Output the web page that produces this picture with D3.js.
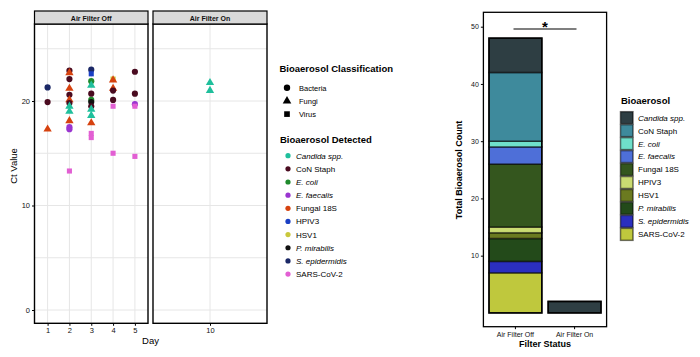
<!DOCTYPE html>
<html><head><meta charset="utf-8">
<script src="https://cdn.jsdelivr.net/npm/d3@7"></script>
<style>body{margin:0;background:#fff}svg{font-family:"Liberation Sans",Arial,sans-serif}</style>
</head><body><svg id="c" width="700" height="357"></svg>
<script>
// ---------- data ----------
const organisms = ["Candida spp.","CoN Staph","E. coli","E. faecalis","Fungal 18S","HPIV3","HSV1","P. mirabilis","S. epidermidis","SARS-CoV-2"];
const italicOrg = ["Candida spp.","E. coli","E. faecalis","P. mirabilis","S. epidermidis"];
const classes = ["Bacteria","Fungi","Virus"];
const orgClass = ["Fungi","Bacteria","Bacteria","Bacteria","Fungi","Virus","Virus","Bacteria","Bacteria","Virus"];
const scatterColors = ["#1fbf9c","#4a0b20","#1f8a2c","#9a35d0","#d6420f","#1a3fc4","#c9c83c","#111111","#1b2866","#e25fd3"];
const barColors = ["#2e3e43","#3e8a9c","#6fdfca","#4e6fd8","#34561e","#cadb72","#6b7a20","#234a1a","#2b2fbf","#bfc83d"];
const panels = ["Air Filter Off","Air Filter On"];
const offDays = [1,2,3,4,5];
const onDays = [10];
const ctTicks = [0,10,20];
// scatter points
const ptPanel = ["Air Filter Off","Air Filter Off","Air Filter Off",
 "Air Filter Off","Air Filter Off","Air Filter Off","Air Filter Off","Air Filter Off","Air Filter Off","Air Filter Off","Air Filter Off","Air Filter Off","Air Filter Off","Air Filter Off","Air Filter Off","Air Filter Off",
 "Air Filter Off","Air Filter Off","Air Filter Off","Air Filter Off","Air Filter Off","Air Filter Off","Air Filter Off","Air Filter Off","Air Filter Off","Air Filter Off","Air Filter Off","Air Filter Off","Air Filter Off",
 "Air Filter Off","Air Filter Off","Air Filter Off","Air Filter Off","Air Filter Off","Air Filter Off","Air Filter Off",
 "Air Filter Off","Air Filter Off","Air Filter Off","Air Filter Off","Air Filter Off",
 "Air Filter On","Air Filter On"];
const ptDay = [1,1,1,
 2,2,2,2,2,2,2,2,2,2,2,2,2,
 3,3,3,3,3,3,3,3,3,3,3,3,3,
 4,4,4,4,4,4,4,
 5,5,5,5,5,
 10,10];
const ptCt = [21.3,19.9,17.3,
 22.9,22.7,22.1,21.2,20.6,20.1,19.8,19.5,19.0,18.1,17.5,17.3,13.3,
 23.0,22.6,21.9,21.5,20.7,20.1,19.9,19.5,19.2,18.6,17.9,16.9,16.5,
 22.1,22.0,21.2,21.0,20.1,19.5,15.0,
 22.8,20.7,19.7,19.5,14.7,
 21.75,21.0];
const ptOrg = ["S. epidermidis","CoN Staph","Fungal 18S",
 "CoN Staph","Fungal 18S","CoN Staph","Fungal 18S","CoN Staph","Fungal 18S","CoN Staph","Candida spp.","Candida spp.","Fungal 18S","E. faecalis","E. faecalis","SARS-CoV-2",
 "S. epidermidis","HPIV3","E. coli","Candida spp.","CoN Staph","E. coli","P. mirabilis","CoN Staph","Candida spp.","Candida spp.","Fungal 18S","SARS-CoV-2","SARS-CoV-2",
 "HSV1","Fungal 18S","Fungal 18S","CoN Staph","CoN Staph","SARS-CoV-2","SARS-CoV-2",
 "CoN Staph","CoN Staph","E. faecalis","SARS-CoV-2","SARS-CoV-2",
 "Candida spp.","Candida spp."];
// bar counts
const filterStatus = ["Air Filter Off","Air Filter On"];
const countOff = [6,12,1,3,11,1,1,4,2,7];
const countOn  = [2,0,0,0,0,0,0,0,0,0];
const countTicks = [10,20,30,40,50];

// ---------- helpers ----------
const svg = d3.select("#c");
const colS = d3.scaleOrdinal().domain(organisms).range(scatterColors);
const colB = d3.scaleOrdinal().domain(organisms).range(barColors);
const clsOf = d3.scaleOrdinal().domain(organisms).range(orgClass);
const shapeOf = d3.scaleOrdinal().domain(classes).range([d3.symbolCircle,d3.symbolTriangle,d3.symbolSquare]);
const sizeOf = {Bacteria:30,Fungi:30,Virus:26};
const isItal = o => italicOrg.includes(o);

// ---------- left: faceted scatter ----------
const pTop = 24, pBot = 323.3;
const yL = d3.scaleLinear().domain([0,20]).range([310,101]);
const pX = {"Air Filter Off":[34.5,148], "Air Filter On":[153,267]};
const xOff = d3.scaleLinear().domain([0.4,5.6]).range(pX["Air Filter Off"]);
const xOn = d3.scaleLinear().domain([9.4,10.6]).range(pX["Air Filter On"]);
const xs = {"Air Filter Off":xOff,"Air Filter On":xOn};
const dayTicks = {"Air Filter Off":offDays,"Air Filter On":onDays};
const gridY = [0,5,10,15,20,25];

panels.forEach(p=>{
  const [x0,x1] = pX[p], xsc = xs[p];
  const g = svg.append("g");
  g.append("rect").attr("x",x0).attr("y",pTop).attr("width",x1-x0).attr("height",pBot-pTop).attr("fill","#fff");
  g.selectAll(".gy").data(gridY).join("line").attr("x1",x0).attr("x2",x1)
    .attr("y1",d=>yL(d)).attr("y2",d=>yL(d)).attr("stroke","#e6e6e6").attr("stroke-width",1);
  g.selectAll(".gx").data(dayTicks[p]).join("line").attr("y1",pTop).attr("y2",pBot)
    .attr("x1",d=>xsc(d)).attr("x2",d=>xsc(d)).attr("stroke","#e6e6e6").attr("stroke-width",1);
  // points
  const idx = d3.range(ptDay.length).filter(i=>ptPanel[i]===p);
  g.selectAll(".pt").data(idx).join("path")
    .attr("transform",i=>`translate(${xsc(ptDay[i])},${yL(ptCt[i])})`)
    .attr("d",i=>{const c=clsOf(ptOrg[i]);return d3.symbol(shapeOf(c),sizeOf[c])();})
    .attr("fill",i=>colS(ptOrg[i]));
  g.append("rect").attr("x",x0).attr("y",pTop).attr("width",x1-x0).attr("height",pBot-pTop)
    .attr("fill","none").attr("stroke","#000").attr("stroke-width",1.4);
  // strip
  g.append("rect").attr("x",x0).attr("y",11).attr("width",x1-x0).attr("height",13)
    .attr("fill","#d9d9d9").attr("stroke","#000").attr("stroke-width",1.2);
  g.append("text").attr("x",(x0+x1)/2).attr("y",20.5).attr("text-anchor","middle")
    .attr("font-size",7).attr("font-weight","bold").attr("fill","#111").text(p);
  // x axis
  const ax = svg.append("g").attr("transform",`translate(0,${pBot})`)
    .call(d3.axisBottom(xsc).tickValues(dayTicks[p]).tickFormat(d3.format("d")).tickSize(2.5).tickPadding(2));
  ax.select(".domain").remove();
  ax.selectAll("text").attr("font-size",7.5).attr("fill","#111").attr("font-family","Liberation Sans, Arial");
});
const ayL = svg.append("g").attr("transform","translate(34.5,0)")
  .call(d3.axisLeft(yL).tickValues(ctTicks).tickFormat(d3.format("d")).tickSize(2.5).tickPadding(2));
ayL.select(".domain").remove();
ayL.selectAll("text").attr("font-size",7.5).attr("fill","#111").attr("font-family","Liberation Sans, Arial");
svg.append("text").attr("x",150.5).attr("y",344).attr("text-anchor","middle").attr("font-size",9.5).text("Day");
svg.append("text").attr("transform","translate(17,166) rotate(-90)").attr("text-anchor","middle").attr("font-size",9.5).text("Ct Value");

// left legends
svg.append("text").attr("x",279.5).attr("y",72).attr("font-size",9.5).attr("font-weight","bold").text("Bioaerosol Classification");
const lc = svg.append("g");
classes.forEach((c,i)=>{
  const y = 87.7 + i*13.2;
  lc.append("path").attr("transform",`translate(287,${y})`).attr("d",d3.symbol(shapeOf(c),32)()).attr("fill","#000");
  lc.append("text").attr("x",299).attr("y",y+2.8).attr("font-size",7.5).text(c);
});
svg.append("text").attr("x",280).attr("y",143).attr("font-size",9.5).attr("font-weight","bold").text("Bioaerosol Detected");
organisms.forEach((o,i)=>{
  const y = 155.7 + i*13.15;
  svg.append("circle").attr("cx",288).attr("cy",y).attr("r",2.6).attr("fill",colS(o));
  svg.append("text").attr("x",296).attr("y",y+2.9).attr("font-size",8)
    .attr("font-style",isItal(o)?"italic":"normal").text(o);
});

// ---------- right: stacked bar ----------
const bx0 = 483.4, bx1 = 606.6, bTop = 12.3, bBot = 326.7;
const xB = d3.scaleBand().domain(filterStatus).range([bx0+33.6-28,bx1-33.6+28]).paddingInner(0.107).paddingOuter(0);
const yB = d3.scaleLinear().domain([0,50]).range([312.9,26.7]);
const counts = {"Air Filter Off":countOff,"Air Filter On":countOn};
svg.append("rect").attr("x",bx0).attr("y",bTop).attr("width",bx1-bx0).attr("height",bBot-bTop).attr("fill","#fff");
filterStatus.forEach(s=>{
  const row = {}; organisms.forEach((o,i)=>row[o]=counts[s][i]);
  const keys = organisms.slice().reverse(); // bottom = last level
  const st = d3.stack().keys(keys)([row]);
  const g = svg.append("g");
  st.forEach(layer=>{
    const d = layer[0]; if (d[1]-d[0] <= 0) return;
    g.append("rect").attr("x",xB(s)).attr("width",xB.bandwidth())
      .attr("y",yB(d[1])).attr("height",yB(d[0])-yB(d[1]))
      .attr("fill",colB(layer.key)).attr("stroke","#000").attr("stroke-opacity",0.55).attr("stroke-width",1.6);
  });
  const total = d3.sum(counts[s]);
  g.append("rect").attr("x",xB(s)).attr("width",xB.bandwidth()).attr("y",yB(total)).attr("height",yB(0)-yB(total))
    .attr("fill","none").attr("stroke","#000").attr("stroke-width",1.6);
});
svg.append("rect").attr("x",bx0).attr("y",bTop).attr("width",bx1-bx0).attr("height",bBot-bTop)
  .attr("fill","none").attr("stroke","#000").attr("stroke-width",1.3);
const ayB = svg.append("g").attr("transform",`translate(${bx0},0)`)
  .call(d3.axisLeft(yB).tickValues(countTicks).tickSize(2.5).tickPadding(2));
ayB.select(".domain").remove();
ayB.selectAll("text").attr("font-size",7).attr("fill","#111").attr("font-family","Liberation Sans, Arial");
const axB = svg.append("g").attr("transform",`translate(0,${bBot})`)
  .call(d3.axisBottom(xB).tickSize(2.5).tickPadding(2.5));
axB.select(".domain").remove();
axB.selectAll("text").attr("font-size",7).attr("fill","#111").attr("font-family","Liberation Sans, Arial");
svg.append("text").attr("x",545).attr("y",346.5).attr("text-anchor","middle").attr("font-size",9).attr("font-weight","bold").text("Filter Status");
svg.append("text").attr("transform","translate(462,170) rotate(-90)").attr("text-anchor","middle").attr("font-size",9).attr("font-weight","bold").text("Total Bioaerosol Count");
// significance
svg.append("line").attr("x1",513.5).attr("x2",576.5).attr("y1",29).attr("y2",29).attr("stroke","#000").attr("stroke-width",1.1);
svg.append("text").attr("x",545).attr("y",32).attr("text-anchor","middle").attr("font-size",15).attr("font-weight","bold").text("*");

// right legend
svg.append("text").attr("x",621).attr("y",104).attr("font-size",9.5).attr("font-weight","bold").text("Bioaerosol");
organisms.forEach((o,i)=>{
  const y = 117.7 + i*12.96;
  svg.append("rect").attr("x",620.5).attr("y",y-6).attr("width",12.5).attr("height",12)
    .attr("fill",colB(o)).attr("stroke","#000").attr("stroke-opacity",0.55).attr("stroke-width",1.5);
  svg.append("text").attr("x",638).attr("y",y+2.9).attr("font-size",8)
    .attr("font-style",isItal(o)?"italic":"normal").text(o);
});
</script></body></html>
